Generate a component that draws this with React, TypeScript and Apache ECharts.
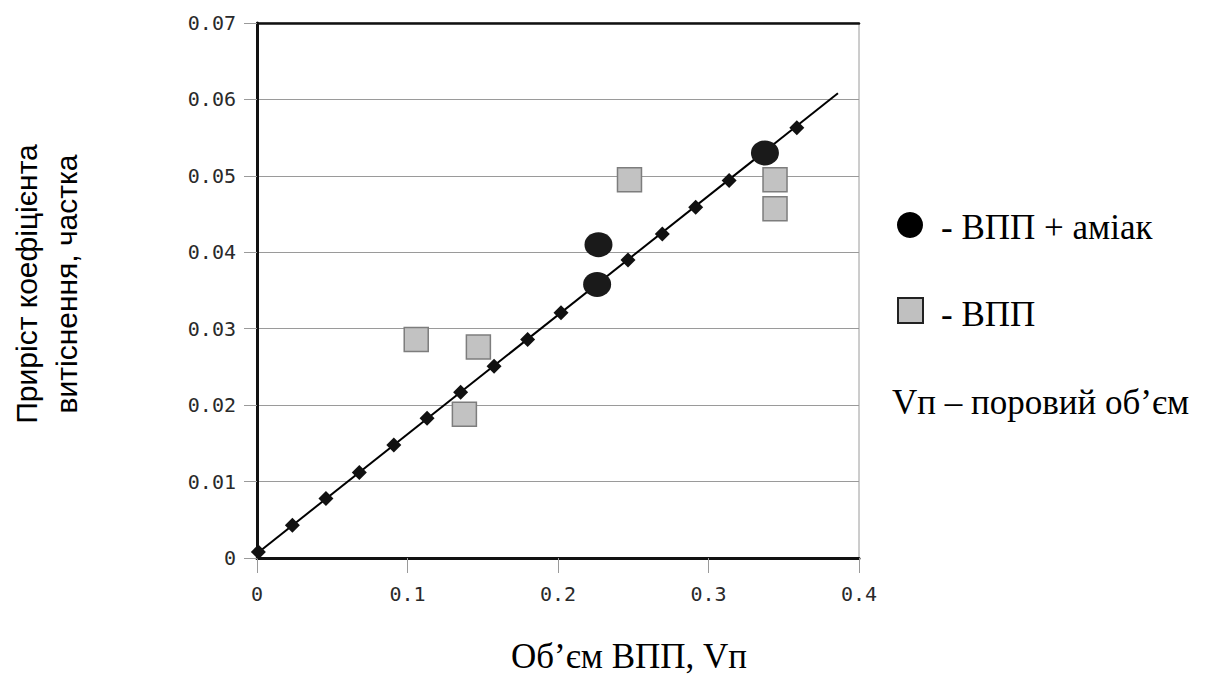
import React, { useEffect, useRef } from "react";
import * as echarts from "echarts";

// Trend line markers (diamonds)
const trendX = [0.0009, 0.0235, 0.0458, 0.068, 0.0909, 0.113, 0.1353, 0.1575, 0.1798, 0.202, 0.2243, 0.2465, 0.2693, 0.2915, 0.3137, 0.336, 0.3587];
const trendY = [0.0008, 0.0043, 0.0078, 0.0112, 0.0148, 0.0183, 0.0217, 0.0251, 0.0286, 0.0321, 0.0355, 0.039, 0.0424, 0.0459, 0.0494, 0.0528, 0.0563];

// Fitted line end points
const lineX = [0.0, 0.386];
const lineY = [0.0006, 0.0608];

// ВПП + аміак (black ellipses)
const ammoniaX = [0.2269, 0.226, 0.3375];
const ammoniaY = [0.041, 0.0358, 0.053];

// ВПП (grey squares)
const vppX = [0.1058, 0.1471, 0.1378, 0.2475, 0.3442, 0.3442];
const vppY = [0.0286, 0.0276, 0.0188, 0.0495, 0.0495, 0.0457];

const xTicks = [0, 0.1, 0.2, 0.3, 0.4];
const yTicks = [0, 0.01, 0.02, 0.03, 0.04, 0.05, 0.06, 0.07];

const yTitle1 = "Приріст коефіцієнта";
const yTitle2 = "витіснення, частка";
const xTitle = "Об’єм ВПП, Vп";
const legend1 = "- ВПП + аміак";
const legend2 = "- ВПП";
const legend3 = "Vп – поровий об’єм";

const zip = (a: number[], b: number[]) => a.map((v, i) => [v, b[i]]);

export default function App() {
  const ref = useRef<HTMLDivElement>(null);
  useEffect(() => {
    if (!ref.current) return;
    const chart = echarts.init(ref.current, undefined, { renderer: "svg" });
    const tickFont = "DejaVu Sans Mono";
    const serif = "'Times New Roman', 'Liberation Serif', serif";
    const sans = "Arial, 'Liberation Sans', sans-serif";
    const serifText = (text: string, x: number, y: number) => ({
      type: "text",
      x,
      y,
      style: {
        text,
        fontFamily: serif,
        fontSize: 35,
        fill: "#000",
        align: "left",
        verticalAlign: "middle",
      },
    });
    chart.setOption({
      animation: false,
      backgroundColor: "#ffffff",
      grid: {
        left: 257,
        top: 23,
        width: 602,
        height: 535,
        show: true,
        borderColor: "#9a9a9a",
        borderWidth: 1,
        backgroundColor: "transparent",
      },
      xAxis: [
        {
          type: "value",
          min: xTicks[0],
          max: xTicks[xTicks.length - 1],
          interval: 0.1,
          position: "bottom",
          axisLine: { show: true, onZero: false, lineStyle: { color: "#111", width: 3 } },
          axisTick: { show: true, length: 15, lineStyle: { color: "#9a9a9a", width: 1 } },
          axisLabel: {
            margin: 26,
            color: "#2a2a2a",
            fontFamily: tickFont,
            fontSize: 20,
            formatter: (v: number) => (v === 0 ? "0" : v.toFixed(1)),
          },
          splitLine: { show: false },
        },
        {
          type: "value",
          min: xTicks[0],
          max: xTicks[xTicks.length - 1],
          position: "top",
          axisLine: { show: true, onZero: false, lineStyle: { color: "#111", width: 2.5 } },
          axisTick: { show: false },
          axisLabel: { show: false },
          splitLine: { show: false },
        },
      ],
      yAxis: {
        type: "value",
        min: yTicks[0],
        max: yTicks[yTicks.length - 1],
        interval: 0.01,
        axisLine: { show: true, onZero: false, lineStyle: { color: "#111", width: 3 } },
        axisTick: { show: true, length: 13, lineStyle: { color: "#9a9a9a", width: 1 } },
        axisLabel: {
          margin: 21,
          color: "#2a2a2a",
          fontFamily: tickFont,
          fontSize: 20,
          formatter: (v: number) => (v === 0 ? "0" : v.toFixed(2)),
        },
        splitLine: { show: true, lineStyle: { color: "#9a9a9a", width: 1 } },
      },
      series: [
        {
          type: "line",
          data: zip(lineX, lineY),
          showSymbol: false,
          symbol: "none",
          lineStyle: { color: "#000", width: 2 },
          z: 2,
        },
        {
          type: "scatter",
          data: zip(trendX, trendY),
          symbol: "diamond",
          symbolSize: 15,
          itemStyle: { color: "#111", opacity: 1 },
          z: 3,
        },
        {
          type: "scatter",
          data: zip(vppX, vppY),
          symbol: "rect",
          symbolSize: 24,
          itemStyle: { color: "#c2c2c2", borderColor: "#7d7d7d", borderWidth: 1.5, opacity: 1 },
          z: 4,
        },
        {
          type: "scatter",
          data: zip(ammoniaX, ammoniaY),
          symbol: "path://M0,1 A1,1 0 1,1 2,1 A1,1 0 1,1 0,1 Z",
          symbolSize: [28, 25],
          itemStyle: { color: "#1a1a1a", opacity: 1 },
          z: 5,
        },
      ],
      graphic: [
        {
          type: "text",
          x: 26,
          y: 284,
          rotation: Math.PI / 2,
          style: { text: yTitle1, fontFamily: sans, fontSize: 30, fill: "#000", align: "center", verticalAlign: "middle" },
        },
        {
          type: "text",
          x: 66,
          y: 284,
          rotation: Math.PI / 2,
          style: { text: yTitle2, fontFamily: sans, fontSize: 30, fill: "#000", align: "center", verticalAlign: "middle" },
        },
        serifText(xTitle, 511, 656),
        {
          type: "circle",
          shape: { cx: 910, cy: 225, r: 13 },
          style: { fill: "#000" },
        },
        serifText(legend1, 941, 227),
        {
          type: "rect",
          shape: { x: 898, y: 298, width: 25, height: 25 },
          style: { fill: "#c0c0c0", stroke: "#222", lineWidth: 2 },
        },
        serifText(legend2, 941, 314),
        serifText(legend3, 892, 402),
      ],
    });
    return () => chart.dispose();
  }, []);
  return (
    <div
      ref={ref}
      style={{ position: "fixed", left: 0, top: 0, width: 1216, height: 675, background: "#fff" }}
    />
  );
}
